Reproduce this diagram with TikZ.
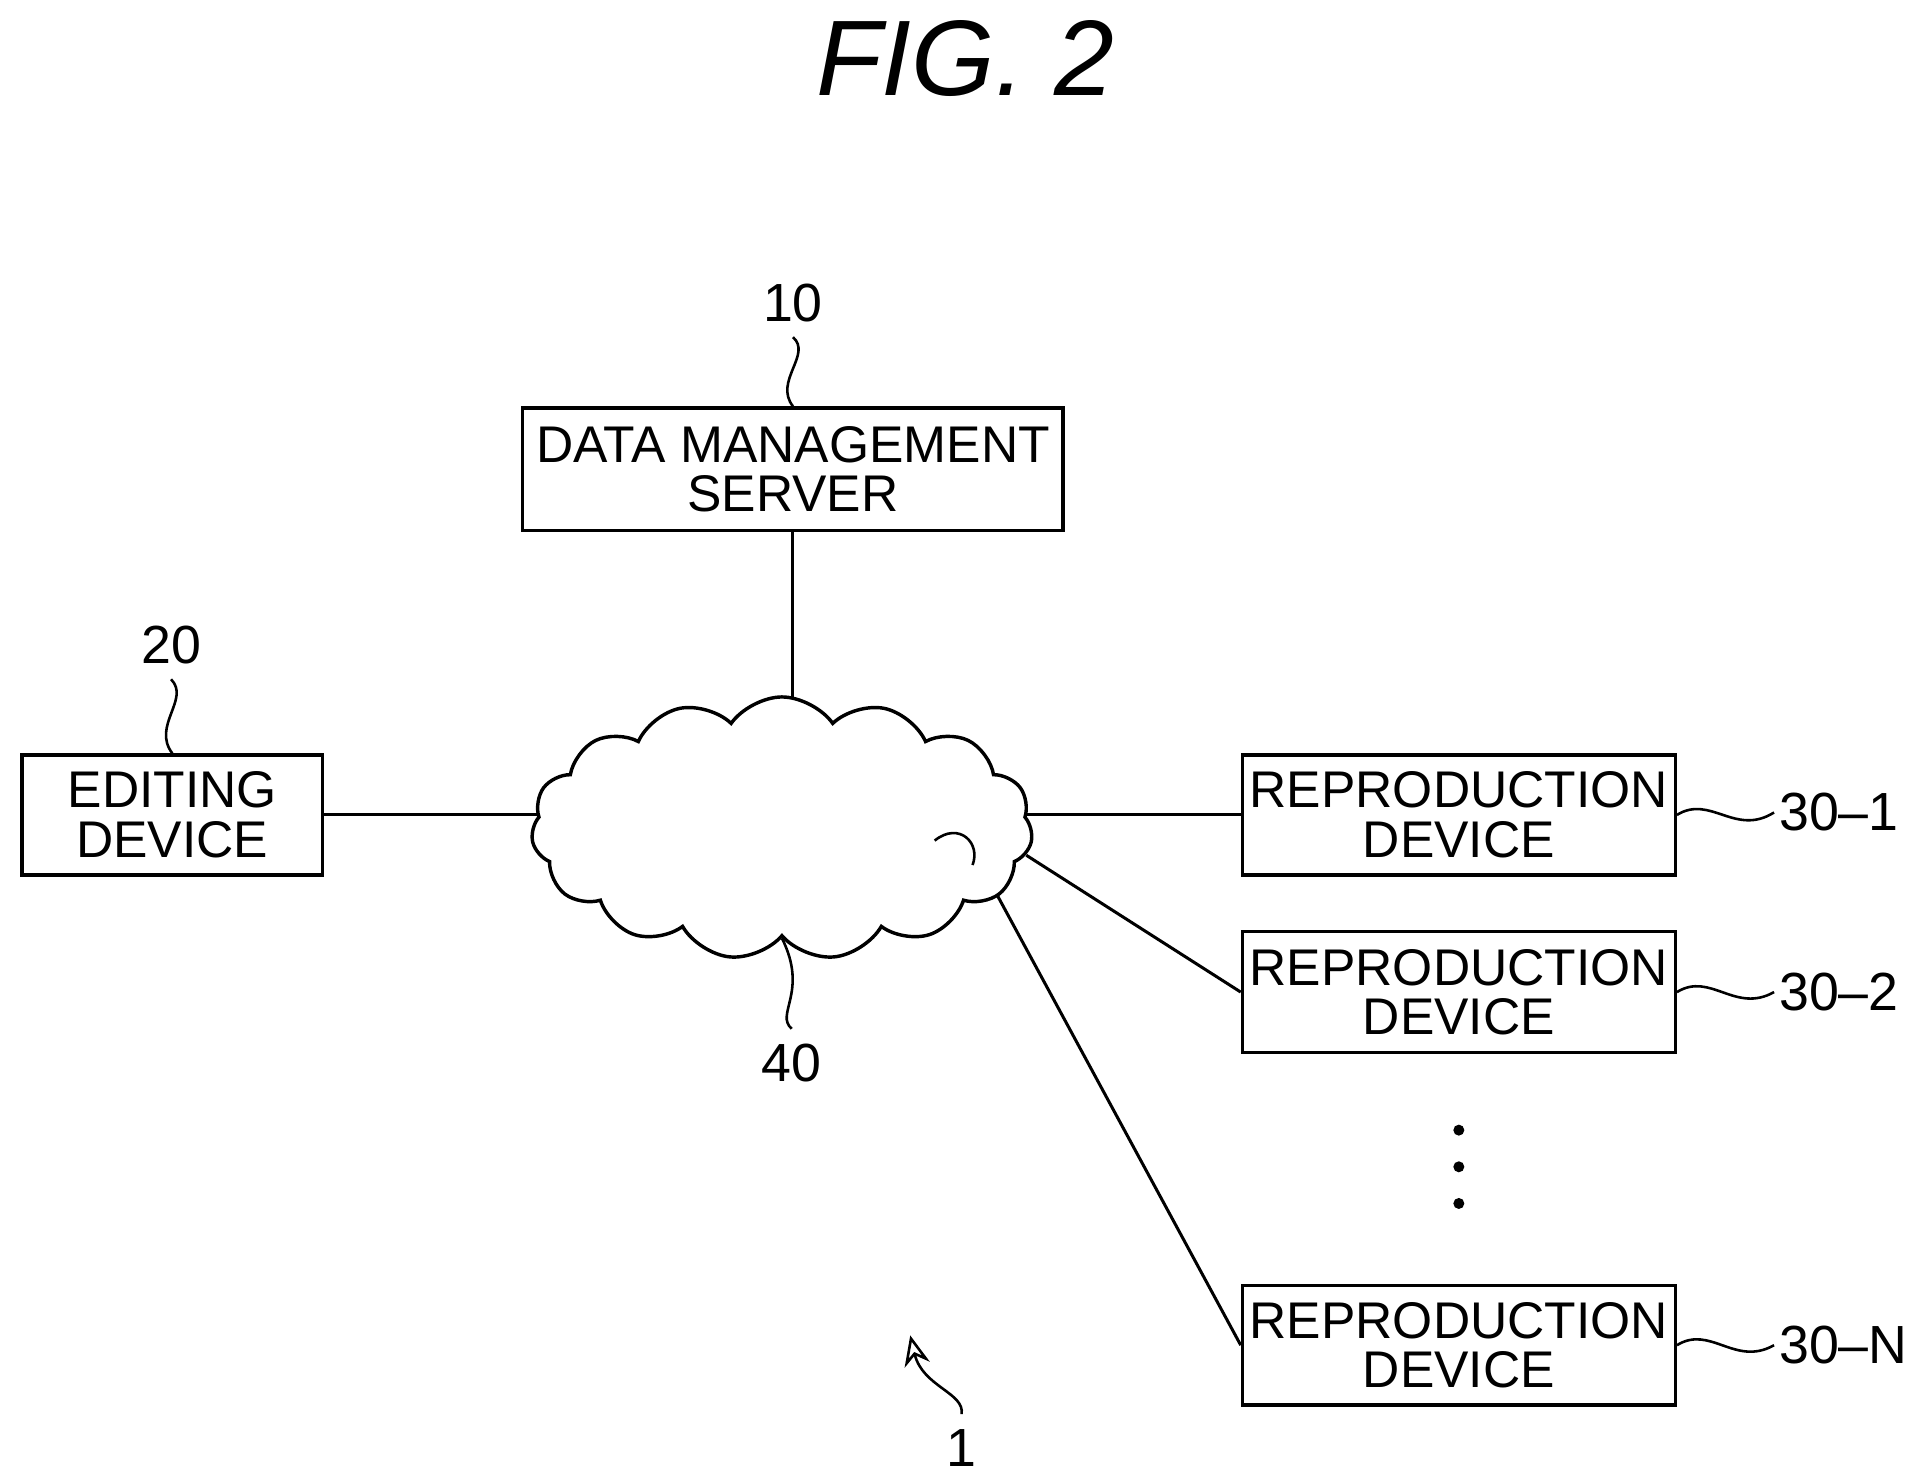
\documentclass[tikz,border=0pt]{standalone}
\usepackage{fontspec}
\setmainfont{Liberation Sans}
\usetikzlibrary{shapes.symbols,arrows.meta}
\begin{document}
\begin{tikzpicture}[x=0.01cm,y=-0.01cm,
  box/.style={draw,line width=0.8pt,minimum width=#1,inner sep=0pt,align=center,font=\fontsize{12}{12.5}\selectfont},
  lab/.style={font=\fontsize{12.5}{14}\selectfont},
  sq/.style={line width=0.6pt},
  ln/.style={line width=0.7pt}]
\useasboundingbox (0,0) rectangle (1560,1210);
\node[font=\itshape\fontsize{25}{28}\selectfont] (title) at (790,48) {FIG. 2};
\node[box, minimum width=4.42cm, minimum height=1.0cm] (dms) at (649,384) {DATA MANAGEMENT\\[-1pt]SERVER};
\node[box, minimum width=2.46cm, minimum height=0.98cm] (ed) at (141,667) {EDITING\\[-1pt]DEVICE};
\node[box, minimum width=3.54cm, minimum height=0.98cm] (r1) at (1194,667) {REPRODUCTION\\[-1pt]DEVICE};
\node[box, minimum width=3.54cm, minimum height=0.99cm] (r2) at (1194,812) {REPRODUCTION\\[-1pt]DEVICE};
\node[box, minimum width=3.54cm, minimum height=0.98cm] (rn) at (1194,1101) {REPRODUCTION\\[-1pt]DEVICE};
\coordinate (cc) at (649,678);
\coordinate (c2) at (840,700);
\coordinate (c3) at (805,712);
\draw[ln] (dms.south) -- (cc);
\draw[ln] (ed.east) -- (ed.east -| cc);
\draw[ln] (r1.west) -- (r1.west -| cc);
\draw[ln] (r2.west) -- (c2);
\draw[ln] (rn.west) -- (c3);
\node[cloud, cloud puffs=15, cloud puff arc=110, aspect=1.9, draw, fill=white, line width=0.8pt, minimum width=4.1cm, minimum height=2.15cm] (net) at (640,678) {};
\draw[sq] (765,688) .. controls (785,672) and (803,690) .. (796,708);
\node[lab] (n10) at (649,248) {10};
\node[lab] (n20) at (140,528) {20};
\node[lab] (n40) at (648,870) {40};
\node[lab,anchor=west,inner sep=1pt] (n301) at (1452,665) {30–1};
\node[lab,anchor=west,inner sep=1pt] (n302) at (1452,812) {30–2};
\node[lab,anchor=west,inner sep=1pt] (n30n) at (1452,1101) {30–N};
\node[lab] (n1) at (787,1185) {1};
\draw[sq] (n10.south) .. controls (665,290) and (633,312) .. (dms.north);
\draw[sq] (n20.south) .. controls (156,572) and (124,594) .. (ed.north);
\draw[sq] (net.south) .. controls (662,812) and (634,830) .. (n40.north);
\draw[sq] (r1.east) .. controls (1400,650) and (1420,685) .. (n301.west);
\draw[sq] (r2.east) .. controls (1400,795) and (1420,830) .. (n302.west);
\draw[sq] (rn.east) .. controls (1400,1084) and (1420,1119) .. (n30n.west);
\draw[sq,-{Stealth[length=7pt,width=6pt,open]}] (n1.north) .. controls (790,1140) and (755,1135) .. (745,1093);
\foreach \y [count=\i] in {925,955,985} \fill (1194,\y) circle (4.5) coordinate (d\i);
\end{tikzpicture}
\end{document}
